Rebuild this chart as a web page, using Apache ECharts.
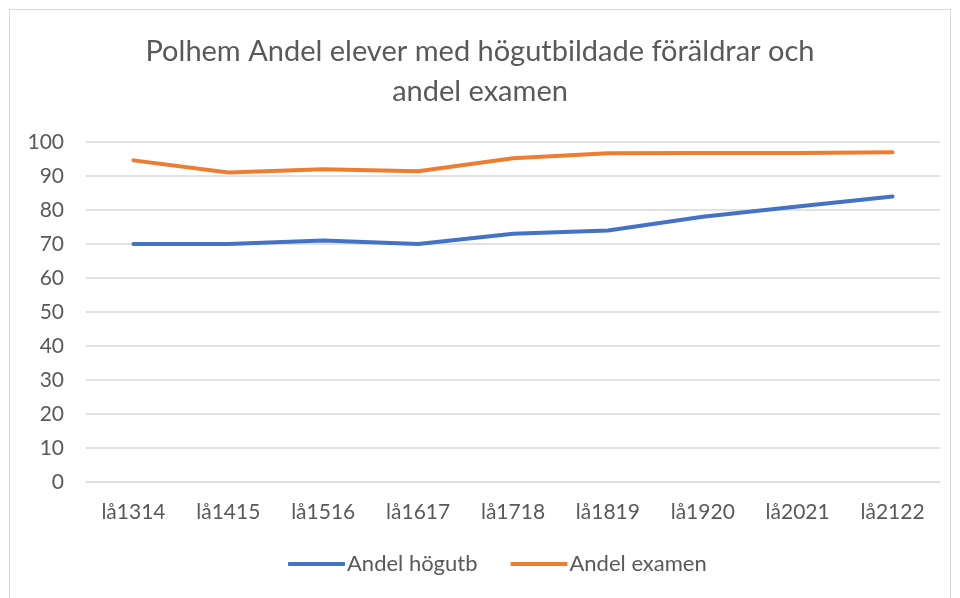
<!DOCTYPE html>
<html>
<head>
<meta charset="utf-8">
<script src="https://cdn.jsdelivr.net/npm/echarts@6/dist/echarts.min.js"></script>
<style>
  html, body { margin: 0; padding: 0; background: #fff; }
  #frame { position: absolute; left: 9px; top: 9px; width: 942px; height: 600px; border: 1px solid #d9d9d9; box-sizing: border-box; }
  #chart { position: absolute; left: 0; top: 0; width: 960px; height: 598px; }
</style>
</head>
<body>
<div id="frame"></div>
<div id="chart"></div>
<script>
const categories = ['lå1314', 'lå1415', 'lå1516', 'lå1617', 'lå1718', 'lå1819', 'lå1920', 'lå2021', 'lå2122'];
const hogutb = [70, 70, 71, 70, 73, 74, 78, 81, 84];
const examen = [94.6, 91, 92, 91.4, 95.2, 96.7, 96.8, 96.8, 97];
const yTicks = { min: 0, max: 100, interval: 10 };

const font = 'Lato, "Open Sans", sans-serif';
const chart = echarts.init(document.getElementById('chart'));
chart.setOption({
  animation: false,
  title: {
    text: 'Polhem Andel elever med högutbildade föräldrar och\nandel examen',
    left: 'center',
    top: 27,
    textStyle: { fontFamily: font, fontSize: 29, fontWeight: 'normal', color: '#595959', lineHeight: 40 }
  },
  legend: {
    bottom: 18,
    left: 283,
    itemWidth: 57,
    itemHeight: 4,
    itemGap: 33,
    icon: 'roundRect',
    textStyle: { fontFamily: font, fontSize: 22, color: '#595959', padding: [0, 0, 0, -3] },
    data: ['Andel högutb', 'Andel examen']
  },
  grid: { left: 86, right: 20, top: 142, bottom: 116 },
  xAxis: {
    type: 'category',
    data: categories,
    axisLine: { lineStyle: { color: '#d9d9d9', width: 1 } },
    axisTick: { show: false },
    axisLabel: { fontFamily: font, fontSize: 21, color: '#595959', margin: 20 }
  },
  yAxis: {
    type: 'value',
    min: yTicks.min,
    max: yTicks.max,
    interval: yTicks.interval,
    axisLine: { show: false },
    axisTick: { show: false },
    axisLabel: { fontFamily: font, fontSize: 21, color: '#595959', margin: 22 },
    splitLine: { lineStyle: { color: '#d9d9d9', width: 1.5 } }
  },
  series: [
    {
      name: 'Andel högutb',
      type: 'line',
      data: hogutb,
      symbol: 'none',
      color: '#4472c4',
      lineStyle: { width: 4, cap: 'round', join: 'round' }
    },
    {
      name: 'Andel examen',
      type: 'line',
      data: examen,
      symbol: 'none',
      color: '#ed7d31',
      lineStyle: { width: 4, cap: 'round', join: 'round' }
    }
  ]
});
</script>
</body>
</html>
